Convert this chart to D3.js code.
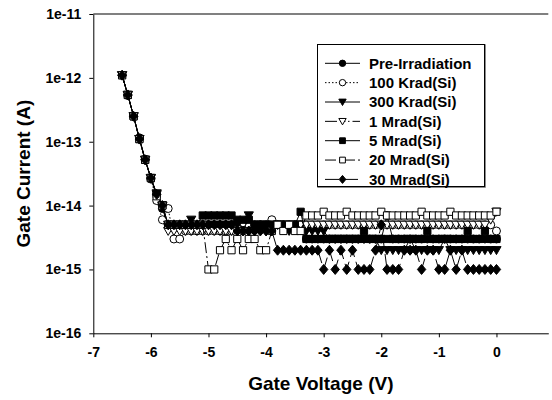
<!DOCTYPE html>
<meta charset="utf-8">
<style>
body { margin: 0; background: #fff; }
svg { display: block; font-family: "Liberation Sans", Arial, sans-serif; font-weight: bold; }
.axis path, .axis line { stroke: #000; stroke-width: 1px; }
.axis text { font-size: 14px; font-weight: bold; fill: #000; font-family: "Liberation Sans", Arial, sans-serif; }
.series-line { fill: none; stroke: #000; stroke-width: 1px; }
</style>
<script src="https://d3js.org/d3.v7.min.js"></script>
<body>
<script>
// gate voltage sweep (V)
var voltages = [-6.5,-6.4,-6.3,-6.2,-6.1,-6.0,-5.9,-5.8,-5.7,-5.6,-5.5,-5.4,-5.3,-5.2,-5.1,-5.0,
  -4.9,-4.8,-4.7,-4.6,-4.5,-4.4,-4.3,-4.2,-4.1,-4.0,-3.9,-3.8,-3.7,-3.6,-3.5,-3.4,-3.3,-3.2,-3.1,-3.0,
  -2.9,-2.8,-2.7,-2.6,-2.5,-2.4,-2.3,-2.2,-2.1,-2.0,-1.9,-1.8,-1.7,-1.6,-1.5,-1.4,-1.3,-1.2,-1.1,-1.0,
  -0.9,-0.8,-0.7,-0.6,-0.5,-0.4,-0.3,-0.2,-0.1,0.0];

// gate current, in fA
var preIrr = [1100,530,250,115,53,27,15,
  9,5,5,5,5,5,5,5,5,5,  5,5,5,5,5,5,5,5,5,5,  5,5,5,5,5,3,3,3,3,3,
  3,3,3,3,3,3,3,3,3,7,  3,3,3,3,3,3,3,3,3,3,  3,3,3,3,3,3,3,3,3];
var krad100 = [1100,540,250,110,52,26,12,
  6,9,3,3,4,4,4,4,4,4,  4,4,4,5,4,5,5,5,5,6,  5,5,5,5,5,5,5,5,5,5,
  5,5,5,5,5,5,5,5,5,5,  5,5,5,5,5,5,5,5,5,5,  5,5,5,5,5,5,5,5,4];
var krad300 = [1100,540,250,110,52,27,15.5,
  10,5,5,5,5,6,5,5,5,5,  5,5,5,5,5,7,5,5,5,5,  5,5,4,5,5,4,4,4,4,3,
  3,3,3,3,3,3,3,3,2,2,  2,2,2,3,2,2,2,2,2,3,  2,2,2,2,2,2,2,2,2];
var mrad1 = [1100,540,250,110,52,27,15,
  10,4,4,4,4,4,4,4,4,4,  4,4,4,4,5,4,4,5,4,5,  5,5,5,5,5,5,5,5,5,5,
  5,5,5,5,5,5,5,5,5,5,  5,5,5,5,5,5,5,5,5,5,  5,5,5,5,5,5,5,6,8];
var mrad5 = [1100,540,250,110,52,27,15,
  10,5,5,5,5,5,5,7,7,7,  7,7,7,6,6,6,5,5,5,5,  5,5,5,5,8,3,3,3,3,3,
  3,3,3,3,3,4,3,3,3,3,  3,3,3,3,3,3,4,3,3,3,  3,3,3,4,3,3,4,3,3];
var mrad20 = [1100,540,250,110,52,27,14,
  10,5,5,5,5,5,5,5,1,1,  2,3,2,3,2,3,3,2,2,4,  5,4,5,4,4,7,7,7,8,7,
  7,7,8,7,7,7,7,7,8,7,  7,7,7,7,7,8,7,7,7,7,  8,7,7,7,7,7,7,7,8];
var mrad30 = [1100,540,250,110,52,27,15,
  10,5,5,5,5,5,5,5,5,5,  5,5,5,4,4,4,4,4,4,4,  2,2,2,2,2,2,2,2,1,2,
  1,2,1,2,1,1,1,2,5,1,  1,1,2,2,2,1,2,2,1,1,  2,1,2,1,1,1,1,1,1];

var seriesNames = ["Pre-Irradiation", "100 Krad(Si)", "300 Krad(Si)", "1 Mrad(Si)",
  "5 Mrad(Si)", "20 Mrad(Si)", "30 Mrad(Si)"];
var seriesValues = [preIrr, krad100, krad300, mrad1, mrad5, mrad20, mrad30];

var xTicks = [-7, -6, -5, -4, -3, -2, -1, 0];
var yTicks = [1e-16, 1e-15, 1e-14, 1e-13, 1e-12, 1e-11];

// marker style per series
var styles = [
  {shape: "circle",   fill: "#000", dash: null},
  {shape: "circle",   fill: "#fff", dash: "1.5,2"},
  {shape: "triangle", fill: "#000", dash: null},
  {shape: "triangle", fill: "#fff", dash: "12,3,1.5,2.5,1.5,2.5,1.5,3"},
  {shape: "square",   fill: "#000", dash: null},
  {shape: "square",   fill: "#fff", dash: "11,3,2,3"},
  {shape: "diamond",  fill: "#000", dash: "14,5"}
];

var width = 552, height = 400;
var plotLeft = 93.3, plotRight = 548.3, plotTop = 14, plotBottom = 333.3;

var svg = d3.select("body").append("svg")
    .attr("width", width)
    .attr("height", height);

var x = d3.scaleLinear().domain([-7, 0.9]).range([plotLeft, plotRight]);
var y = d3.scaleLog().domain([1e-16, 1e-11]).range([plotBottom, plotTop]);

function markerPath(shape, s) {
  if (shape == "circle") {
    var r = 4 * s;
    return "M" + (-r) + ",0A" + r + "," + r + " 0 1,0 " + r + ",0A" + r + "," + r + " 0 1,0 " + (-r) + ",0Z";
  }
  if (shape == "triangle") {
    return "M" + (-4.6 * s) + "," + (-3.6 * s) + "L" + (4.6 * s) + "," + (-3.6 * s) + "L0," + (4.4 * s) + "Z";
  }
  if (shape == "square") {
    var h = 3.6 * s;
    return "M" + (-h) + "," + (-h) + "H" + h + "V" + h + "H" + (-h) + "Z";
  }
  return "M0," + (-5 * s) + "L" + (4.2 * s) + ",0L0," + (5 * s) + "L" + (-4.2 * s) + ",0Z";
}

// plain hyphen instead of the unicode minus
function hyphen(s) { return s.replace("\u2212", "-"); }

// top frame line
svg.append("line")
    .attr("x1", plotLeft).attr("x2", plotRight)
    .attr("y1", plotTop).attr("y2", plotTop)
    .attr("stroke", "#808080")
    .attr("stroke-width", 2);

// series
var line = d3.line()
    .x(function(d) { return x(d[0]); })
    .y(function(d) { return y(d[1]); });

seriesValues.forEach(function(vals, k) {
  var pts = voltages.map(function(v, i) { return [v, vals[i] * 1e-15]; });
  var st = styles[k];
  var g = svg.append("g");
  g.append("path")
      .datum(pts)
      .attr("class", "series-line")
      .attr("stroke-dasharray", st.dash)
      .attr("d", line);
  g.selectAll("path.mark")
      .data(pts)
      .enter().append("path")
      .attr("class", "mark")
      .attr("transform", function(d) { return "translate(" + x(d[0]) + "," + y(d[1]) + ")"; })
      .attr("d", markerPath(st.shape, 1))
      .attr("fill", st.fill)
      .attr("stroke", "#000")
      .attr("stroke-width", 1);
});

// axes
svg.append("g")
    .attr("class", "axis")
    .attr("transform", "translate(0," + plotBottom + ")")
    .call(d3.axisBottom(x).tickValues(xTicks).tickSize(4).tickSizeOuter(0).tickPadding(10)
      .tickFormat(function(d) { return hyphen(d3.format("d")(d)); }));

svg.append("g")
    .attr("class", "axis")
    .attr("transform", "translate(" + plotLeft + ",0)")
    .call(d3.axisLeft(y).tickValues(yTicks).tickSize(4).tickSizeOuter(0).tickPadding(8)
      .tickFormat(function(d) { return hyphen(d3.format(".0e")(d)); }));

// axis titles
svg.append("text")
    .attr("x", (plotLeft + plotRight) / 2)
    .attr("y", 390)
    .attr("text-anchor", "middle")
    .style("font-size", "19px")
    .text("Gate Voltage (V)");

svg.append("text")
    .attr("transform", "translate(30," + ((plotTop + plotBottom) / 2) + ") rotate(-90)")
    .attr("text-anchor", "middle")
    .style("font-size", "19px")
    .text("Gate Current (A)");

// legend
var legend = svg.append("g");
legend.append("rect")
    .attr("x", 318).attr("y", 45)
    .attr("width", 167).attr("height", 142)
    .attr("fill", "none")
    .attr("stroke", "#666")
    .attr("stroke-width", 1.5);
legend.append("rect")
    .attr("x", 317.5).attr("y", 44.5)
    .attr("width", 167).attr("height", 142)
    .attr("fill", "#fff")
    .attr("stroke", "#000")
    .attr("stroke-width", 1);

seriesNames.forEach(function(name, k) {
  var cy = 63.3 + k * 19.35;
  var st = styles[k];
  legend.append("line")
      .attr("x1", 325).attr("x2", 360)
      .attr("y1", cy).attr("y2", cy)
      .attr("stroke", "#000")
      .attr("stroke-dasharray", st.dash);
  legend.append("path")
      .attr("transform", "translate(342.5," + cy + ")")
      .attr("d", markerPath(st.shape, 0.8))
      .attr("fill", st.fill)
      .attr("stroke", "#000");
  legend.append("text")
      .attr("x", 369)
      .attr("y", cy + 5.3)
      .style("font-size", "15px")
      .text(name);
});
</script>
</body>
